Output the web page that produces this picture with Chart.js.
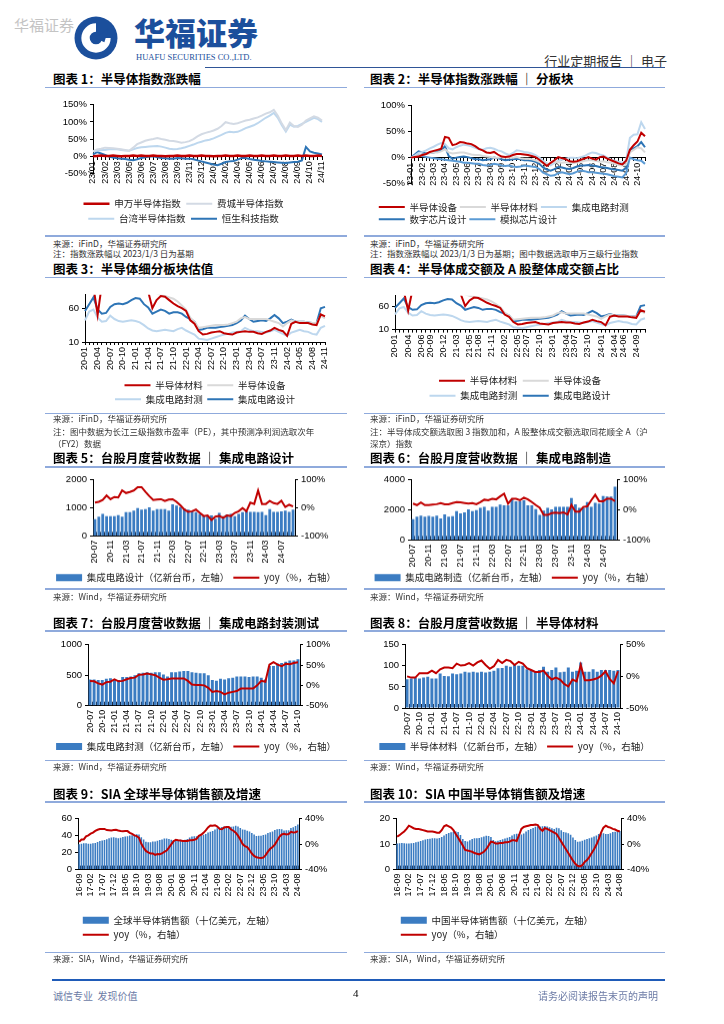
<!DOCTYPE html>
<html lang="zh-CN">
<head>
<meta charset="utf-8">
<title>行业定期报告 | 电子</title>
<script src="https://cdn.jsdelivr.net/npm/chart.js@4.4.1/dist/chart.umd.min.js"></script>
<style>
  html, body { margin: 0; padding: 0; background: #fff; }
  body { position: relative; width: 724px; height: 1024px; overflow: hidden;
         font-family: "Noto Sans CJK SC", "Noto Sans", sans-serif; color: #000; }
  .abs { position: absolute; white-space: nowrap; }
  .title { position: absolute; font-size: 12.5px; font-weight: 700; line-height: 14px; white-space: nowrap; }
  .rule { position: absolute; height: 1.5px; background: #8FAADC; }
  .src { position: absolute; font-size: 8.5px; line-height: 11px; color: #333; white-space: nowrap; }
  .box { position: absolute; }
  .box canvas { display: block; }
</style>
</head>
<body>

<!-- header -->
<div class="abs" style="left:14px;top:14px;font-size:15px;color:#C4C4C4;">华福证券</div>
<svg class="abs" style="left:74px;top:16px" width="44" height="44" viewBox="0 0 42 42">
  <circle cx="21" cy="21" r="20.5" fill="#1B4F9C"/>
  <path d="M21 7 A14 14 0 1 0 35 21 L27 21 A6 6 0 1 1 21 15 Z" fill="#fff"/>
  <path d="M20 21 L33 12 L29 25 Z" fill="#1B4F9C"/>
</svg>
<div class="abs" style="left:134px;top:14px;font-size:31px;line-height:36px;font-weight:900;color:#1B4F9C;">华福证券</div>
<div class="abs" style="left:136px;top:52px;font-size:8.5px;line-height:10px;color:#1B4F9C;font-family:'Liberation Serif',serif;">HUAFU SECURITIES CO.,LTD.</div>
<div class="abs" style="right:57px;top:51px;font-size:13px;color:#333;">行业定期报告 ｜ 电子</div>
<div class="abs" style="left:205px;top:67px;width:460px;height:1.2px;background:#2F5597;"></div>

<!-- block A -->
<div class="title" style="left:53px;top:72px;">图表 1：半导体指数涨跌幅</div>
<div class="rule" style="left:45px;top:86.5px;width:302px;"></div>
<div class="box" style="left:45px;top:96px;width:302px;height:137.4px;"><canvas id="c1"></canvas></div>
<div class="rule" style="left:45px;top:235px;width:302px;"></div>
<div class="src" style="left:53px;top:237.8px;">来源：iFinD，华福证券研究所</div>
<div class="src" style="left:53px;top:247.8px;">注：指数涨跌幅以 2023/1/3 日为基期</div>

<div class="title" style="left:370px;top:72px;">图表 2：半导体指数涨跌幅 ｜ 分板块</div>
<div class="rule" style="left:364px;top:86.5px;width:301px;"></div>
<div class="box" style="left:364px;top:96.7px;width:301px;height:137px;"><canvas id="c2"></canvas></div>
<div class="rule" style="left:364px;top:235px;width:301px;"></div>
<div class="src" style="left:370px;top:237.8px;">来源：iFinD，华福证券研究所</div>
<div class="src" style="left:370px;top:247.8px;">注：指数涨跌幅以 2023/1/3 日为基期；图中数据选取申万三级行业指数</div>

<!-- block B -->
<div class="title" style="left:53px;top:261.5px;">图表 3：半导体细分板块估值</div>
<div class="rule" style="left:45px;top:276.5px;width:302px;"></div>
<div class="box" style="left:45px;top:285.7px;width:302px;height:128px;"><canvas id="c3"></canvas></div>
<div class="rule" style="left:45px;top:412.6px;width:302px;"></div>
<div class="src" style="left:53px;top:413.3px;">来源：iFinD，华福证券研究所</div>
<div class="src" style="left:53px;top:426.2px;">注：图中数据为长江三级指数市盈率（PE），其中预测净利润选取次年</div>
<div class="src" style="left:53px;top:437.8px;">（FY2）数据</div>

<div class="title" style="left:370px;top:261.5px;">图表 4：半导体成交额及 A 股整体成交额占比</div>
<div class="rule" style="left:364px;top:276.5px;width:301px;"></div>
<div class="box" style="left:364px;top:286.7px;width:301px;height:123.6px;"><canvas id="c4"></canvas></div>
<div class="rule" style="left:364px;top:412.6px;width:301px;"></div>
<div class="src" style="left:370px;top:413.3px;">来源：iFinD，华福证券研究所</div>
<div class="src" style="left:370px;top:426.2px;">注：半导体成交额选取图 3 指数加和，A 股整体成交额选取同花顺全 A（沪</div>
<div class="src" style="left:370px;top:437.8px;">深京）指数</div>

<!-- block C -->
<div class="title" style="left:53px;top:451.3px;">图表 5：台股月度营收数据 ｜ 集成电路设计</div>
<div class="rule" style="left:45px;top:466px;width:302px;"></div>
<div class="box" style="left:45px;top:471.3px;width:302px;height:120.5px;"><canvas id="c5"></canvas></div>
<div class="rule" style="left:45px;top:588.3px;width:302px;"></div>
<div class="src" style="left:53px;top:591.2px;">来源：Wind，华福证券研究所</div>

<div class="title" style="left:370px;top:451.3px;">图表 6：台股月度营收数据 ｜ 集成电路制造</div>
<div class="rule" style="left:364px;top:466px;width:301px;"></div>
<div class="box" style="left:364px;top:471.3px;width:301px;height:120.5px;"><canvas id="c6"></canvas></div>
<div class="rule" style="left:364px;top:588.3px;width:301px;"></div>
<div class="src" style="left:370px;top:591.2px;">来源：Wind，华福证券研究所</div>

<!-- block D -->
<div class="title" style="left:53px;top:616.3px;">图表 7：台股月度营收数据 ｜ 集成电路封装测试</div>
<div class="rule" style="left:45px;top:630px;width:302px;"></div>
<div class="box" style="left:45px;top:636.3px;width:302px;height:125.2px;"><canvas id="c7"></canvas></div>
<div class="rule" style="left:45px;top:759.5px;width:302px;"></div>
<div class="src" style="left:53px;top:760.5px;">来源：Wind，华福证券研究所</div>

<div class="title" style="left:370px;top:616.3px;">图表 8：台股月度营收数据 ｜ 半导体材料</div>
<div class="rule" style="left:364px;top:630px;width:301px;"></div>
<div class="box" style="left:364px;top:636.3px;width:301px;height:125.2px;"><canvas id="c8"></canvas></div>
<div class="rule" style="left:364px;top:759.5px;width:301px;"></div>
<div class="src" style="left:370px;top:760.5px;">来源：Wind，华福证券研究所</div>

<!-- block E -->
<div class="title" style="left:53px;top:787px;">图表 9：SIA 全球半导体销售额及增速</div>
<div class="rule" style="left:45px;top:801px;width:302px;"></div>
<div class="box" style="left:45px;top:809.7px;width:302px;height:139.4px;"><canvas id="c9"></canvas></div>
<div class="rule" style="left:45px;top:951.5px;width:302px;"></div>
<div class="src" style="left:53px;top:952.8px;">来源：SIA，Wind，华福证券研究所</div>

<div class="title" style="left:370px;top:787px;">图表 10：SIA 中国半导体销售额及增速</div>
<div class="rule" style="left:364px;top:801px;width:301px;"></div>
<div class="box" style="left:364px;top:809.7px;width:301px;height:139.4px;"><canvas id="c10"></canvas></div>
<div class="rule" style="left:364px;top:951.5px;width:301px;"></div>
<div class="src" style="left:370px;top:952.8px;">来源：SIA，Wind，华福证券研究所</div>

<!-- footer -->
<div class="abs" style="left:52px;top:978.5px;width:613px;height:2.5px;background:#1F5BB8;"></div>
<div class="abs" style="left:53px;top:988px;font-size:10px;color:#6C7BA6;">诚信专业&nbsp;&nbsp;发现价值</div>
<div class="abs" style="left:353px;top:987px;font-size:11px;font-family:'Liberation Serif',serif;">4</div>
<div class="abs" style="right:66px;top:988px;font-size:10px;color:#6C7BA6;">请务必阅读报告末页的声明</div>

<script>
// ---------- 图表1：半导体指数涨跌幅（%，2023/1/3 为基期） ----------
const c1Ticks = ['23/01','23/02','23/03','23/05','23/06','23/07','23/08','23/09','23/11','23/12',
                 '24/01','24/02','24/04','24/05','24/06','24/07','24/08','24/09','24/10','24/11'];
const c1Sw  = [0,1,2,1,1,2,1,0,1,1, 2,1,2,1,1,2,1,1,0,1, 1,2,1,1,2,1,1,2,1,1,
               0,1,1,2,1,1,2,1,1,2, 1,1,2,1,1,2,1,1,2,1, 1,2,1,2,1,1,2,1];
const c1Sox = [15,20,22,25,24,23,22,20,18,16, 25,35,40,45,48,50,53,50,48,45,
               44,42,39,41,44,50,58,64,68,71, 75,80,88,99,96,94,96,100,104,106,
               110,113,118,124,128,135,118,95,76,98, 88,85,92,104,110,116,112,104];
const c1Tw  = [14,16,18,18,20,20,20,18,17,16, 20,24,26,27,28,29,30,28,25,22,
               20,21,23,26,30,34,39,42,46,48, 52,57,62,68,71,70,71,76,82,86,
               90,96,104,112,118,126,112,90,72,92, 86,88,94,100,106,112,108,100];
const c1Hs  = [5,12,8,4,-1,-4,-6,-7,-8,-10, -12,-9,-5,-3,-1,0,-3,-5,-6,-7,
               -7,-5,-6,-7,-7,-9,-12,-15,-18,-21, -24,-26,-22,-17,-15,-14,-10,-5,-5,-8,
               -10,-12,-14,-15,-16,-17,-18,-19,-20,-18, -17,-16,-12,27,14,10,8,5];

// ---------- 图表2：分板块涨跌幅（%） ----------
const c2Ticks = ['23-01','23-02','23-03','23-04','23-05','23-06','23-07','23-08','23-09','23-10','23-11',
                 '23-12','24-01','24-02','24-04','24-05','24-06','24-07','24-08','24-09','24-10'];
const c2Equip = [0,1,2,5,7,11,13,15,17,40, 38,24,26,30,29,27,26,22,17,14, 10,9,11,6,2,1,2,5,7,7,
                 6,5,3,1,-4,-10,-16,-10,-5,1, -1,-3,-7,-8,-7,-4,-2,1,-2,-4, 1,2,-2,-5,-8,-11,-13,-6,15,24,
                 31,48,41];
const c2Mat   = [0,2,4,5,7,9,10,10,12,16, 10,8,9,10,10,8,6,5,5,3, 2,1,0,0,1,0,0,0,1,-1,
                 -2,-2,-3,-5,-8,-10,-14,-10,-8,-9, -10,-9,-10,-11,-9,-8,-6,-5,-5,-6, -8,-7,-9,-10,-12,-14,-15,-13,10,15,
                 20,18,10];
const c2Pkg   = [0,4,9,11,14,18,21,25,28,26, 18,16,20,23,25,24,22,19,16,15, 18,19,17,14,12,8,5,9,14,13,
                 11,10,8,5,0,-6,-11,-15,-10,-6, -4,-2,0,0,-1,1,3,7,10,9, 6,4,0,-4,-6,-8,-10,-6,38,44,
                 45,68,55];
const c2Dig   = [0,6,12,10,8,9,10,12,14,22, 3,-2,0,1,2,1,-1,-3,-3,-5, -4,-3,0,-1,-3,-5,-4,-3,-2,-3,
                 -5,-5,-6,-8,-12,-19,-23,-25,-22,-18, -19,-21,-22,-20,-17,-15,-15,-14,-15,-16, -18,-19,-20,-22,-23,-24,-25,-20,15,18,
                 22,30,20];
const c2Ana   = [0,3,5,3,1,0,-1,-2,-3,-4, -5,-6,-7,-8,-10,-10,-11,-12,-12,-14, -15,-14,-12,-13,-15,-16,-15,-17,-18,-17,
                 -15,-16,-17,-18,-22,-29,-32,-35,-34,-30, -28,-30,-32,-30,-27,-25,-26,-28,-28,-29, -30,-31,-32,-34,-36,-37,-38,-30,0,-3,
                 -5,-6,-12];

// ---------- 图表3/4：细分板块 PE ----------
const c3Ticks = ['20-01','20-04','20-07','20-10','21-01','21-04','21-07','21-10','22-01','22-04',
                 '22-07','22-10','23-01','23-04','23-07','23-11','24-02','24-05','24-08','24-11'];
const c4Ticks = ['20-01','20-04','20-06','20-09','20-12','21-03','21-05','21-08','21-11','22-02','22-05',
                 '22-07','22-10','23-01','23-04','23-07','23-10','24-01','24-04','24-06','24-09'];
const peTicks = [10, 60];
const peMat   = [95,100,92,50,95,105,100,102,98,100, 104,100,96,98,92,85,60,72,78,77,
                 72,67,63,60,56,42,37,26,21,22, 24,25,26,23,22,21,24,25,26,25,
                 25,23,22,25,27,31,28,26,19,37, 40,38,38,38,36,35,51,48];
const peEquip = [100,110,105,90,98,110,115,112,108,112, 115,110,105,100,95,90,85,82,80,78,
                 76,74,70,64,58,46,40,31,32,33, 34,35,35,35,36,38,40,45,47,44,
                 44,44,44,44,42,40,38,33,38,42, 40,40,40,39,38,38,49,45];
const pePkg   = [42,55,58,46,40,41,49,44,41,40, 41,42,41,39,35,30,27,26,27,28,
                 27,26,29,31,27,24,21,15,14,13, 15,17,19,21,22,24,25,26,31,28,
                 26,26,25,24,26,28,25,22,19,24, 26,28,26,25,22,21,31,34];
const peDes   = [56,66,76,58,52,53,62,66,67,66, 68,72,75,74,66,61,52,55,58,56,
                 52,54,54,52,47,44,40,28,29,31, 31,31,32,33,34,35,38,42,49,44,
                 40,41,42,41,45,50,45,38,40,43, 40,40,40,39,38,38,60,62];

// ---------- 图表5-8：台股月度营收（2020-07 ~ 2024-10） ----------
const twTicks4 = ['20-07','20-11','21-03','21-07','21-11','22-03','22-07','22-11','23-03','23-07','23-11','24-03','24-07'];
const twTicks3 = ['20-07','20-10','21-01','21-04','21-07','21-10','22-01','22-04','22-07','22-10',
                  '23-01','23-04','23-07','23-10','24-01','24-04','24-07','24-10'];
const c5Rev = [594,686,789,709,709,709,743,686,846,846, 903,994,937,960,1017,903,960,960,960,903,
               1131,1086,1029,971,937,880,846,789,709,731, 731,617,823,709,766,789,709,789,846,880,
               857,857,846,857,743,960,857,857,880,903, 857,937];
const c5Yoy = [19,22,28,44,31,39,37,62,53,57, 62,74,74,57,42,28,30,31,25,30,
               31,22,9,-6,-14,-12,-6,-18,-29,-27, -43,-31,-29,-35,-27,-29,-18,-12,-1,-12,
               19,14,62,14,14,25,17,14,25,3, 11,5];
const c6Rev = [1384,1557,1620,1557,1600,1557,1620,1427,1708,1557, 1580,1924,1773,1838,2032,1924,1990,2140,2205,1946,
               2205,2205,2357,2313,2313,2700,2573,2573,2637,2313, 2313,2054,1665,1946,2140,2032,2205,2205,2205,2205,
               2789,2378,2140,2140,2530,2205,2465,2421,2919,2897, 2897,3546];
const c6Yoy = [21,16,25,16,16,18,19,23,19,19, 23,26,25,23,21,23,19,26,34,32,
               37,35,45,54,21,37,37,32,41,35, 26,16,7,-17,-17,-11,-9,-11,-8,-15,
               16,-6,-6,10,12,32,50,29,29,37, 37,29];
const c7Rev = [430,430,420,420,440,450,430,420,470,470, 480,500,530,540,550,540,550,550,510,480,
               550,550,560,570,570,550,540,530,530,500, 420,410,440,430,450,460,480,480,480,470,
               480,480,460,430,650,650,690,700,720,740, 740,760];
const c7Yoy = [11,10,5,2,8,9,15,10,11,15, 18,19,26,27,29,27,25,19,14,15,
               17,17,17,17,11,2,1,1,0,-6, -16,-14,-16,-22,-18,-16,-14,-8,-8,-8,
               -8,0,11,9,51,57,51,47,53,52, 55,57];
const c8Rev = [68,70,72,70,72,74,70,70,82,76, 75,82,80,82,86,84,86,84,86,84,
               86,88,94,95,100,98,102,100,100,92, 90,86,90,98,86,90,96,85,86,96,
               86,88,108,86,86,92,86,90,90,90, 88,90];
const c8Yoy = [0,-2,-2,5,5,5,9,5,11,14, 14,13,20,17,18,21,17,22,25,18,
               12,16,26,21,26,24,18,23,20,13, 10,7,7,9,1,-5,-2,-5,-12,-16,
               -5,-8,18,-6,-6,-5,-3,1,8,-4, -11,8];

// ---------- 图表9/10：SIA 销售额（2016-09 ~ 2024-08） ----------
const siaTicks = ['16-09','17-02','17-07','17-12','18-05','18-10','19-03','19-08','20-01','20-06',
                  '20-11','21-04','21-09','22-02','22-07','22-12','23-05','23-10','24-03','24-08'];
const c9Sales = [30.0,30.5,31.0,31.0,
  30.6,30.4,31.0,31.3,32.6,33.7,34.2,35.0,35.9,37.1,37.7,38.0,
  37.6,37.1,37.6,38.3,39.0,39.3,40.2,40.6,41.2,41.6,41.4,38.2,
  35.5,32.9,32.3,32.1,33.1,33.1,34.0,34.9,35.6,36.6,36.6,36.1,
  35.3,34.6,34.9,34.8,35.1,34.5,35.2,36.2,37.8,39.0,39.4,39.2,
  40.0,39.6,41.0,42.0,43.6,44.5,45.4,47.2,48.8,49.7,50.3,50.9,
  50.7,50.0,50.6,50.9,51.8,50.8,49.0,47.4,47.0,45.9,45.0,43.0,
  41.3,39.7,39.8,40.0,40.7,41.5,43.2,44.0,44.9,46.6,47.6,48.0,
  47.6,46.2,46.4,46.4,49.1,50.0,51.3,53.1];
const c9Yoy = [3.6,7.4,7.4,12.3,
  13.9,16.5,18.1,20.9,22.6,23.7,24.0,24.0,22.2,21.9,21.5,22.2,
  22.7,21.4,20.6,20.2,20.5,20.5,17.8,16.0,13.8,12.7,9.8,0.6,
  -5.7,-10.6,-13.0,-14.6,-14.6,-16.8,-15.5,-15.9,-14.6,-12.0,-10.0,-5.5,
  -0.4,4.5,6.9,6.1,5.8,5.1,4.9,4.9,6.0,6.0,7.0,8.3,
  13.2,14.7,17.8,21.7,26.2,29.2,29.0,29.7,27.6,24.0,23.5,26.2,
  26.8,27.0,23.0,21.1,18.0,13.3,7.3,0.1,-3.0,-4.6,-9.2,-14.7,
  -18.5,-20.7,-21.3,-21.6,-21.1,-17.3,-11.8,-7.3,-4.5,-0.7,5.3,11.6,
  15.2,16.3,15.2,15.8,19.3,18.3,18.7,20.6];
const c10Sales = [10.3,10.4,10.5,10.4,
  10.3,10.3,10.4,10.5,10.7,10.9,11.2,11.5,11.8,12.0,12.1,12.3,
  12.3,12.2,12.4,12.8,13.4,14.0,14.4,14.7,14.9,15.0,14.8,13.6,
  12.0,11.2,11.0,11.5,12.0,12.3,12.3,12.4,12.7,13.0,13.3,13.2,
  12.8,11.6,11.1,11.3,11.6,11.9,12.2,12.5,12.8,13.4,13.9,14.1,
  14.0,13.8,14.2,15.0,15.6,16.0,16.3,16.8,17.0,16.9,17.0,17.1,
  16.9,16.6,16.2,16.0,16.4,16.2,15.5,14.8,14.6,14.3,13.7,12.6,
  11.6,10.9,11.0,11.3,11.7,12.0,12.3,12.6,13.0,13.4,14.0,14.2,
  14.3,14.0,14.0,14.3,14.8,14.9,15.0,15.2];
const c10Yoy = [12,14,17,20,
  24,29,27,25,24,24,23,22,21,20,20,20,
  19,18,18,22,28,30,28,26,22,16,10,4,
  -2,-9,-10,-11,-12,-14,-15,-16,-14,-12,-8,-2,
  4,3,1,1,2,2,3,3,4,6,6,5,
  14,24,27,28,29,30,30,31,30,24,21,25,
  24,22,20,18,16,10,4,-2,-8,-14,-20,-26,
  -31,-34,-35,-33,-28,-25,-20,-14,-8,-1,8,18,
  26,29,27,26,24,23,21,20];

// ---------- 样式 ----------
const RED = '#C00000';
const BAR_BLUE = '#3B7CC2';
const TICK_FONT = { family: '"Liberation Sans", Arial, sans-serif', size: 9.5 };
const XTICK_FONT = { family: '"Liberation Sans", Arial, sans-serif', size: 9 };
const LEG_FONT = { family: '"Noto Sans CJK SC", sans-serif', size: 9.5 };

Chart.defaults.color = '#000';

// tick label at every `step` points, blank elsewhere (tick marks still drawn)
function spread(n, ticks, step) {
  const out = new Array(n).fill('');
  ticks.forEach((t, k) => {
    const i = Math.round(k * step);
    if (i < n) out[i] = t;
  });
  return out;
}

const pct = v => v + '%';
const plain = v => String(v);

function yScale(o) {
  const sc = {
    type: 'linear',
    position: o.pos || 'left',
    min: o.min, max: o.max,
    ticks: { stepSize: o.step, includeBounds: false, font: TICK_FONT, color: '#000', padding: 3,
             callback: o.fmt || plain },
    grid: { drawOnChartArea: false, tickLength: 3, color: '#000' },
    border: { color: '#000' },
    afterFit: s => { s.width = o.w; }
  };
  // fixed tick values (e.g. 10 / 60 on the PE charts)
  if (o.values) sc.afterBuildTicks = s => { s.ticks = o.values.map(v => ({ value: v })); };
  return sc;
}

function xScale(o) {
  const sc = {
    type: 'category',
    position: o.pos || 'bottom',
    offset: !!o.offset,
    ticks: { autoSkip: false, minRotation: 90, maxRotation: 90, font: XTICK_FONT, color: '#000', padding: o.pad || 2 },
    grid: { drawOnChartArea: false, tickLength: o.tl, color: o.tickColor || '#000', offset: !!o.offset },
    border: { color: '#000' }
  };
  if (o.h) sc.afterFit = s => { s.height = o.h; };
  return sc;
}

function line(label, data, color, width, axis) {
  return { type: 'line', label, data, borderColor: color, backgroundColor: color,
           borderWidth: width || 2, pointRadius: 0, pointStyle: 'line', tension: 0,
           yAxisID: axis || 'y', order: 1 };
}

function bars(label, data, catPct) {
  return { type: 'bar', label, data, backgroundColor: BAR_BLUE, borderWidth: 0, pointStyle: 'rect',
           categoryPercentage: catPct || 0.72, barPercentage: 1, yAxisID: 'y', order: 2 };
}

function legend(o) {
  return {
    position: 'bottom',
    align: o.align || 'center',
    fullSize: o.fullSize !== false,
    title: o.gap ? { display: true, text: '', padding: { top: o.gap, bottom: 0 }, font: { size: 1 } }
                 : { display: false },
    labels: { usePointStyle: true, pointStyleWidth: 26, boxHeight: 7, font: LEG_FONT, color: '#222',
              padding: o.pad, sort: (a, b) => a.datasetIndex - b.datasetIndex }
  };
}

function draw(id, type, labels, datasets, scales, leg, padding) {
  new Chart(document.getElementById(id), {
    type,
    data: { labels, datasets },
    options: {
      responsive: true, maintainAspectRatio: false, animation: false,
      layout: { padding: Object.assign({ top: 6, right: 0, bottom: 0, left: 0 }, padding) },
      plugins: { legend: leg, tooltip: { enabled: false } },
      scales
    }
  });
}

// 图表1
draw('c1', 'line', spread(c1Sox.length, c1Ticks, 3), [
    line('申万半导体指数', c1Sw, RED, 2.5),
    line('费城半导体指数', c1Sox, '#D3DAE4'),
    line('台湾半导体指数', c1Tw, '#BDD7EE'),
    line('恒生科技指数', c1Hs, '#2E75B6')
  ], {
    x: xScale({ pos: { y: 0 }, tl: 3 }),
    y: yScale({ min: -50, max: 150, step: 50, w: 48, fmt: pct })
  }, legend({ gap: 18.8, pad: 5.5 }), { right: 25 });

// 图表2
draw('c2', 'line', spread(c2Equip.length, c2Ticks, 3), [
    line('半导体设备', c2Equip, RED),
    line('半导体材料', c2Mat, '#D9D9D9'),
    line('集成电路封测', c2Pkg, '#BDD7EE'),
    line('数字芯片设计', c2Dig, '#2E75B6'),
    line('模拟芯片设计', c2Ana, '#5B9BD5')
  ], {
    x: xScale({ pos: { y: 0 }, tl: 3 }),
    y: yScale({ min: -50, max: 100, step: 50, w: 35, fmt: pct })
  }, legend({ gap: 14.6, pad: 2.8, align: 'start' }), { left: 12, right: 20 });

// 图表3
draw('c3', 'line', spread(peDes.length, c3Ticks, 3), [
    line('半导体材料', peMat, RED),
    line('半导体设备', peEquip, '#D9D9D9'),
    line('集成电路封测', pePkg, '#BDD7EE'),
    line('集成电路设计', peDes, '#2E75B6')
  ], {
    x: xScale({ tl: 3, h: 34 }),
    y: yScale({ min: 10, max: 80, step: 50, w: 40, values: peTicks })
  }, legend({ pad: 4.5, fullSize: false }), { right: 22 });

// 图表4
draw('c4', 'line', spread(peDes.length, c4Ticks, 2.75), [
    line('半导体材料', peMat, RED),
    line('半导体设备', peEquip, '#D9D9D9'),
    line('集成电路封测', pePkg, '#BDD7EE'),
    line('集成电路设计', peDes, '#2E75B6')
  ], {
    x: xScale({ tl: 3, h: 41 }),
    y: yScale({ min: 10, max: 82, step: 50, w: 31, values: peTicks })
  }, legend({ pad: 5.5, fullSize: false }), { right: 20 });

// 图表5-8
function twChart(id, name, rev, yoy, ticks, step, left, right, xh) {
  draw(id, 'bar', spread(rev.length, ticks, step), [
      bars(name + '（亿新台币，左轴）', rev),
      line('yoy（%，右轴）', yoy, RED, 2, 'y1')
    ], {
      x: xScale({ offset: true, tl: -4, pad: 8, h: xh, tickColor: '#1E2B44' }),
      y: yScale(left),
      y1: yScale(right)
    }, legend({ pad: 4 }));
}
twChart('c5', '集成电路设计', c5Rev, c5Yoy, twTicks4, 4,
  { min: 0, max: 2000, step: 1000, w: 48 }, { pos: 'right', min: -100, max: 100, step: 100, w: 52, fmt: pct }, 32.6);
twChart('c6', '集成电路制造', c6Rev, c6Yoy, twTicks4, 4,
  { min: 0, max: 4000, step: 2000, w: 47 }, { pos: 'right', min: -100, max: 100, step: 100, w: 48, fmt: pct }, 28.6);
twChart('c7', '集成电路封测', c7Rev, c7Yoy, twTicks3, 3,
  { min: 0, max: 1000, step: 500, w: 43 }, { pos: 'right', min: -50, max: 100, step: 50, w: 47, fmt: pct }, 32);
twChart('c8', '半导体材料', c8Rev, c8Yoy, twTicks3, 3,
  { min: 0, max: 150, step: 50, w: 41 }, { pos: 'right', min: -50, max: 50, step: 50, w: 45, fmt: pct }, 29.7);

// 图表9-10
function siaChart(id, name, sales, yoy, left, right) {
  draw(id, 'bar', spread(sales.length, siaTicks, 5), [
      bars(name + '（十亿美元，左轴）', sales, 0.68),
      line('yoy（%，右轴）', yoy, RED, 2, 'y1')
    ], {
      x: xScale({ offset: true, tl: -4, pad: 8, h: 41.2, tickColor: '#1E2B44' }),
      y: yScale(left),
      y1: yScale(right)
    }, legend({ pad: 4.8, align: 'start', fullSize: false }));
}
siaChart('c9', '全球半导体销售额', c9Sales, c9Yoy,
  { min: 0, max: 60, step: 20, w: 33 }, { pos: 'right', min: -40, max: 40, step: 20, w: 48, fmt: pct });
siaChart('c10', '中国半导体销售额', c10Sales, c10Yoy,
  { min: 0, max: 20, step: 5, w: 32 }, { pos: 'right', min: -40, max: 40, step: 20, w: 44, fmt: pct });
</script>
</body>
</html>
